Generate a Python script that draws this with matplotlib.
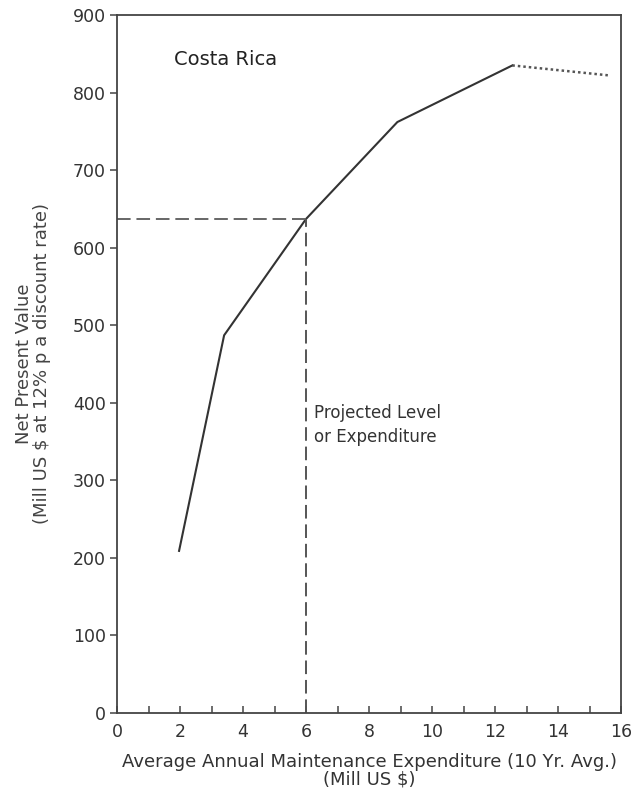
import matplotlib
matplotlib.use("Agg")
from matplotlib import pyplot as plt
from matplotlib.ticker import MultipleLocator

expenditure = [1.97, 3.4, 6.0, 8.9, 12.55]
npv = [209, 487, 637, 762, 835]
# dotted tail beyond the peak
tail_x = [12.55, 15.65]
tail_y = [835, 822]
projected_x = 6.0
projected_y = 637

plt.rcParams['font.family'] = ['DejaVu Sans']
fig = plt.figure(figsize=(6.38, 7.9), dpi=100)
ax = fig.add_axes([0.1834, 0.0975, 0.79, 0.8835])

line_col = '#333333'
ax.plot(expenditure, npv, color=line_col, lw=1.5)
ax.plot(tail_x, tail_y, color='#555555', lw=1.8, ls=(0, (1, 1.2)))
ax.plot([0, projected_x], [projected_y, projected_y], color='#666666', lw=1.4,
        ls=(0, (7, 3)))
ax.plot([projected_x, projected_x], [0, projected_y], color='#555555', lw=1.4,
        ls=(0, (7, 3)))

ax.set_xlim(0, 16)
ax.set_ylim(0, 900)
ax.xaxis.set_major_locator(MultipleLocator(2))
ax.xaxis.set_minor_locator(MultipleLocator(1))
ax.yaxis.set_major_locator(MultipleLocator(100))
ax.tick_params(axis='x', which='both', direction='in', length=5, width=1.1,
               color='#444444', labelsize=12.5, labelcolor='#333333', pad=7)
ax.tick_params(axis='y', direction='out', length=5, width=1.1,
               color='#444444', labelsize=12.5, labelcolor='#333333', pad=3)
for sp in ax.spines.values():
    sp.set_color('#444444')
    sp.set_linewidth(1.3)

ax.set_xlabel('Average Annual Maintenance Expenditure (10 Yr. Avg.)\n(Mill US $)',
              fontsize=13, color='#333333', labelpad=9, linespacing=0.95)
ax.set_ylabel('Net Present Value\n(Mill US $ at 12% p a discount rate)',
              fontsize=13, color='#444444', labelpad=16, linespacing=0.95)

ax.text(1.8, 842, 'Costa Rica', fontsize=14, color='#222222', va='center')
ax.text(6.25, 371, 'Projected Level\nor Expenditure', fontsize=12,
        color='#333333', va='center', linespacing=1.4)

fig.savefig('out.png', dpi=100)
